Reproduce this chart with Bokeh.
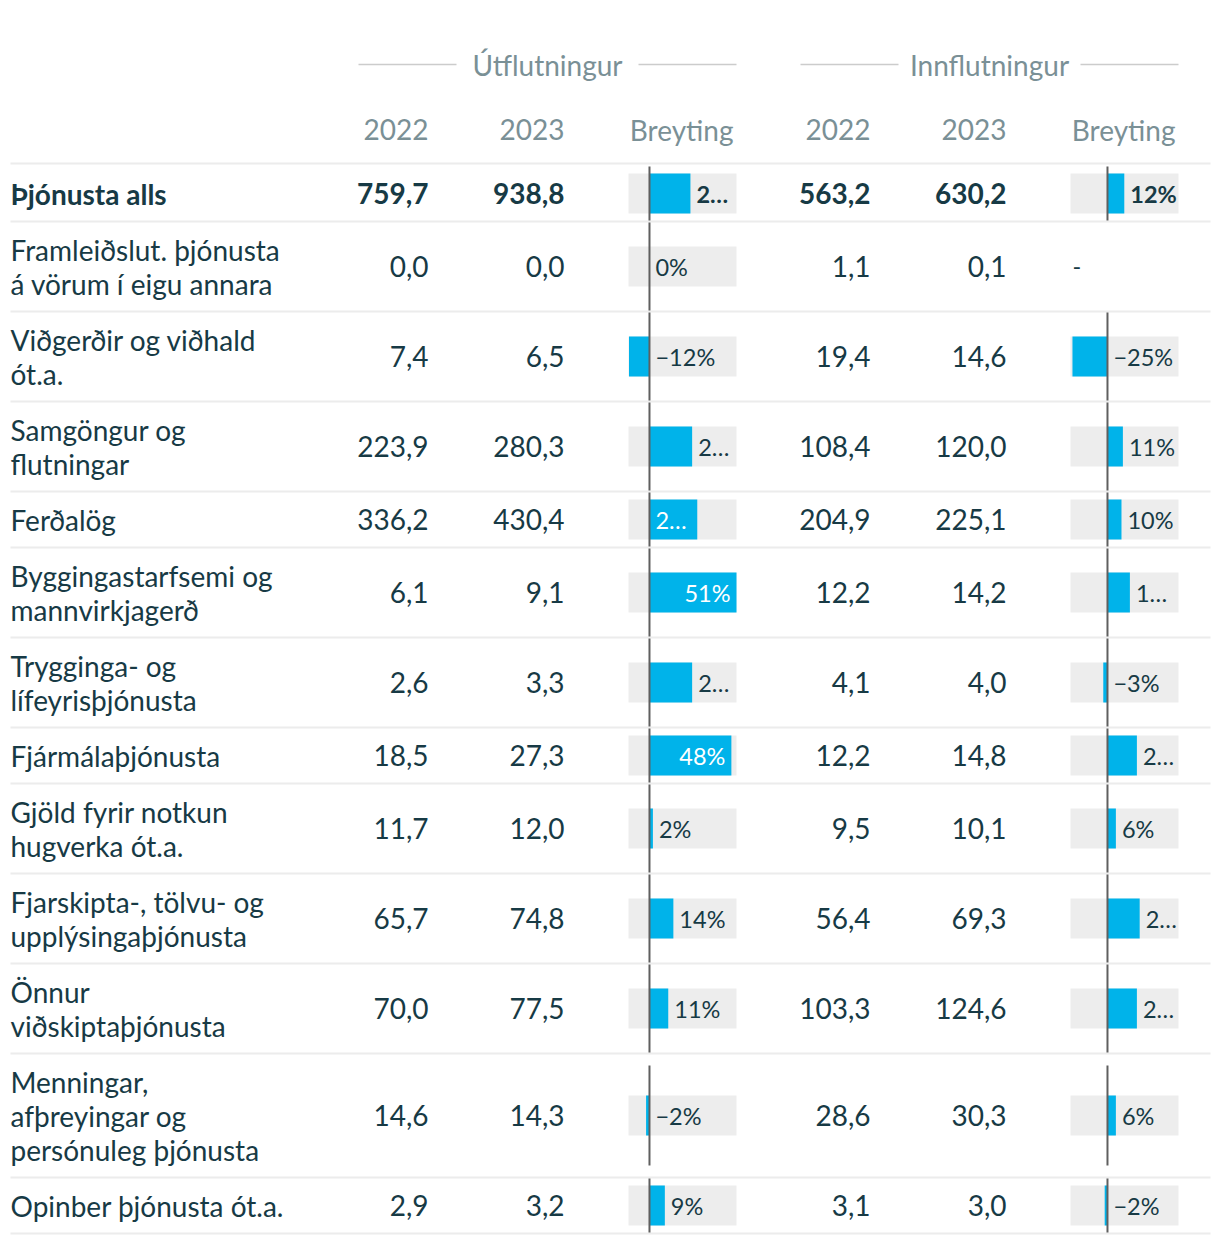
from bokeh.plotting import figure
from bokeh.models import Range1d, ColumnDataSource
from bokeh.core.properties import value
from bokeh.embed import file_html
from bokeh.resources import INLINE

# ---------------- data ----------------
categories = [
    "Þjónusta alls",
    "Framleiðslut. þjónusta\ná vörum í eigu annara",
    "Viðgerðir og viðhald\nót.a.",
    "Samgöngur og\nflutningar",
    "Ferðalög",
    "Byggingastarfsemi og\nmannvirkjagerð",
    "Trygginga- og\nlífeyrisþjónusta",
    "Fjármálaþjónusta",
    "Gjöld fyrir notkun\nhugverka ót.a.",
    "Fjarskipta-, tölvu- og\nupplýsingaþjónusta",
    "Önnur\nviðskiptaþjónusta",
    "Menningar,\nafþreyingar og\npersónuleg þjónusta",
    "Opinber þjónusta ót.a.",
]
exp_2022 = [759.7, 0.0, 7.4, 223.9, 336.2, 6.1, 2.6, 18.5, 11.7, 65.7, 70.0, 14.6, 2.9]
exp_2023 = [938.8, 0.0, 6.5, 280.3, 430.4, 9.1, 3.3, 27.3, 12.0, 74.8, 77.5, 14.3, 3.2]
exp_change = [24, 0, -12, 25, 28, 51, 25, 48, 2, 14, 11, -2, 9]
imp_2022 = [563.2, 1.1, 19.4, 108.4, 204.9, 12.2, 4.1, 12.2, 9.5, 56.4, 103.3, 28.6, 3.1]
imp_2023 = [630.2, 0.1, 14.6, 120.0, 225.1, 14.2, 4.0, 14.8, 10.1, 69.3, 124.6, 30.3, 3.0]
imp_change = [12, None, -25, 11, 10, 16, -3, 21, 6, 23, 21, 6, -2]

group_titles = ["Útflutningur", "Innflutningur"]
col_headers = ["2022", "2023", "Breyting"]

# ---------------- style / layout ----------------
FONT = value("Lato")
DARK = "#173a45"
GREY = "#7a9096"
BLUE = "#00b3ea"
BG = "#ededed"
SEP = "#ececec"
ZERO = "#5f5f5f"
FS = 28
BFS = 23.5

W, H = 1212, 1238
X0, Y0 = 0, 0

LABEL_X = 10
EXP_NUM_X = [428, 564]
IMP_NUM_X = [870, 1006]
EXP_BG = (628, 736)
IMP_BG = (1070, 1178)
EXP_DOMAIN = (-12.3, 51.0)
IMP_DOMAIN = (-26.4, 50.7)
GROUP_Y = 64
HEAD_Y = 129
TABLE_TOP = 163
FIRST_ROW_TOP = 165
LINE_H = 34
ROW_PAD = 22
BAR_H = 40

p = figure(width=W, height=H, x_range=Range1d(X0, X0 + W), y_range=Range1d(Y0 + H, Y0),
           output_backend="svg", toolbar_location=None, min_border=0,
           x_axis_type=None, y_axis_type=None)
p.grid.visible = False
p.outline_line_color = None
p.background_fill_color = "white"
p.border_fill_color = "white"


def bar_range(bg, dom):
    k = (bg[1] - bg[0]) / (dom[1] - dom[0])
    start = dom[0] - (bg[0] - X0) / k
    end = dom[1] + (X0 + W - bg[1]) / k
    return Range1d(start, end), k


exp_rng, KE = bar_range(EXP_BG, EXP_DOMAIN)
imp_rng, KI = bar_range(IMP_BG, IMP_DOMAIN)
p.extra_x_ranges = {"exp": exp_rng, "imp": imp_rng}

# row geometry
nlines = [c.count("\n") + 1 for c in categories]
tops, centers, bottoms = [], [], []
y = FIRST_ROW_TOP
for n in nlines:
    h = ROW_PAD + LINE_H * n
    tops.append(y)
    centers.append(y + h / 2)
    bottoms.append(y + h)
    y += h


def txt(xs, ys, texts, align="left", bold=False, color=DARK, size=FS,
        rng="default", xoff=None):
    src = dict(x=xs, y=ys, t=texts, xo=xoff if xoff is not None else [0] * len(xs))
    p.text(x="x", y="y", text="t", source=ColumnDataSource(src), x_offset="xo",
           text_font=FONT, text_font_size=value(f"{size}px"),
           text_font_style="bold" if bold else "normal",
           text_color=color, text_align=align, text_baseline="middle",
           x_range_name=rng)


# separators
sep_y = [TABLE_TOP] + bottoms
p.segment(x0=[10] * len(sep_y), x1=[1210] * len(sep_y), y0=sep_y, y1=sep_y,
          line_color=SEP, line_width=2)

# group headers
for title, (l, r) in zip(group_titles, [(358, EXP_BG[1]), (800, IMP_BG[1])]):
    cx = (l + r) / 2
    half = 91
    p.segment(x0=[l, cx + half], x1=[cx - half, r], y0=[GROUP_Y] * 2, y1=[GROUP_Y] * 2,
              line_color="#cccccc", line_width=1.5)
    txt([cx], [GROUP_Y], [title], align="center", color=GREY)

# column headers
hx = EXP_NUM_X + [EXP_BG[1] - 3] + IMP_NUM_X + [IMP_BG[1] - 3]
txt(hx, [HEAD_Y] * 6, col_headers * 2, align="right", color=GREY)

# row labels
for bold in (True, False):
    xs, ys, ts = [], [], []
    for i, c in enumerate(categories):
        if (i == 0) != bold:
            continue
        lines = c.split("\n")
        for j, ln in enumerate(lines):
            xs.append(LABEL_X)
            ys.append(centers[i] + (j - (len(lines) - 1) / 2) * LINE_H)
            ts.append(ln)
    txt(xs, ys, ts, bold=bold)


def fmt(v):
    return f"{v:.1f}".replace(".", ",")


# numbers
for bold in (True, False):
    idx = [i for i in range(len(categories)) if (i == 0) == bold]
    for xpos, arr in zip(EXP_NUM_X + IMP_NUM_X, [exp_2022, exp_2023, imp_2022, imp_2023]):
        txt([xpos] * len(idx), [centers[i] for i in idx], [fmt(arr[i]) for i in idx],
            align="right", bold=bold)


# bars
CW = {"%": 0.76, "−": 0.62, "…": 0.78}


def twidth(s):
    return sum(CW.get(ch, 0.53) for ch in s) * BFS


def bars(vals, dom, k, rng):
    rows = [i for i, v in enumerate(vals) if v is not None]
    ys = [centers[i] for i in rows]
    p.hbar(y=ys, left=[dom[0]] * len(rows), right=[dom[1]] * len(rows), height=BAR_H,
           fill_color=BG, line_color=None, x_range_name=rng)
    p.hbar(y=ys, left=[0] * len(rows), right=[vals[i] for i in rows], height=BAR_H,
           fill_color=BLUE, line_color=None, x_range_name=rng)
    y0s, y1s = [], []
    for i in rows:
        h = bottoms[i] - tops[i]
        ext = min(h - 2, 100)
        y0s.append(centers[i] - ext / 2)
        y1s.append(centers[i] + ext / 2)
    p.segment(x0=[0] * len(rows), x1=[0] * len(rows), y0=y0s, y1=y1s,
              line_color=ZERO, line_width=2, x_range_name=rng)
    # labels
    groups = {}
    for i in rows:
        v = vals[i]
        lab = ("−" if v < 0 else "") + f"{abs(round(v))}%"
        w = twidth(lab)
        right_space = (dom[1] - max(v, 0)) * k - 10
        bar_w = max(v, 0) * k - 12
        if right_space >= w:
            key, x, xo, t = ("left", DARK), max(v, 0), 6, lab
        elif bar_w >= w:
            key, x, xo, t = ("right", "white"), v, -6, lab
        else:
            t = lab[0] + "…" if not lab.startswith("−") else lab[:2] + "…"
            if right_space >= bar_w:
                key, x, xo = ("left", DARK), max(v, 0), 6
            else:
                key, x, xo = ("left", "white"), 0, 6
        key = key + (i == 0,)
        g = groups.setdefault(key, ([], [], [], []))
        g[0].append(x); g[1].append(centers[i]); g[2].append(t); g[3].append(xo)
    for (align, color, bold), (xs, ys2, ts, xos) in groups.items():
        txt(xs, ys2, ts, align=align, bold=bold, color=color, size=BFS, rng=rng, xoff=xos)


bars(exp_change, EXP_DOMAIN, KE, "exp")
bars(imp_change, IMP_DOMAIN, KI, "imp")

# missing value marker
missing = [i for i, v in enumerate(imp_change) if v is None]
txt([IMP_BG[0] + 2] * len(missing), [centers[i] for i in missing], ["-"] * len(missing),
    size=BFS)

open("out.html", "w").write(file_html(p, INLINE))
